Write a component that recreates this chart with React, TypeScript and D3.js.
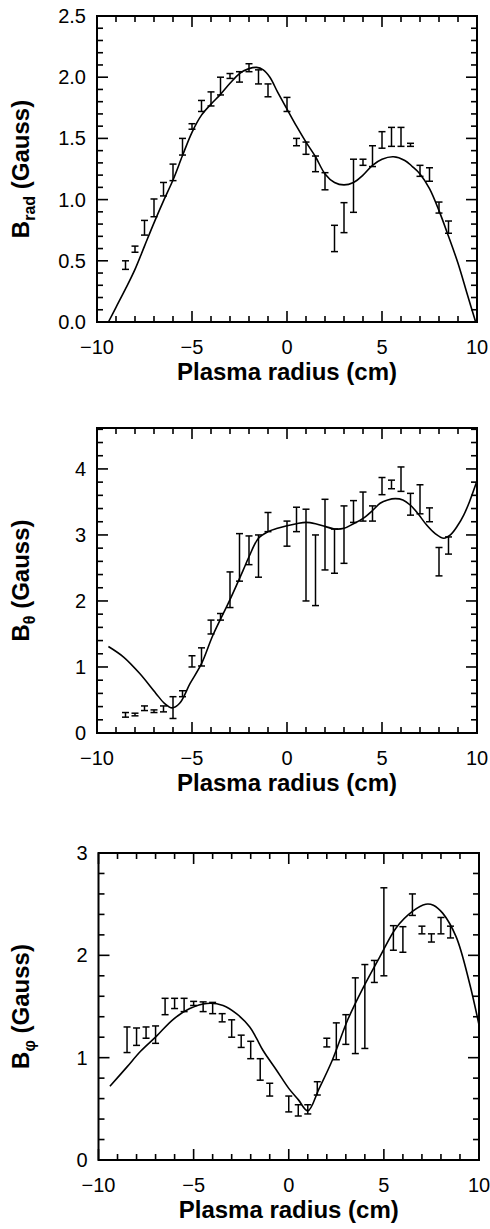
import React from "react";
import * as d3 from "d3";

// ---------- Data ----------
// Panel 1: B_rad
const P1_X = [-8.5,-8,-7.5,-7,-6.5,-6,-5.5,-5,-4.5,-4,-3.5,-3,-2.5,-2,-1.5,-1,0,0.5,1,1.5,2,2.5,3,3.5,4,4.5,5,5.5,6,6.5,7,7.5,8,8.5];
const P1_LO = [0.43,0.57,0.71,0.86,1.03,1.155,1.364,1.575,1.72,1.765,1.855,1.99,1.96,2.045,1.945,1.84,1.72,1.44,1.37,1.228,1.08,0.575,0.73,0.896,1.28,1.27,1.42,1.435,1.435,1.435,1.19,1.15,0.89,0.725];
const P1_HI = [0.50,0.62,0.83,1.005,1.14,1.29,1.50,1.62,1.81,1.88,2.0,2.03,2.045,2.11,2.06,1.945,1.835,1.50,1.47,1.356,1.22,0.79,0.975,1.33,1.33,1.44,1.555,1.59,1.59,1.46,1.28,1.26,0.98,0.825];
const C1_X = [-9.4,-9,-8.5,-8,-7.5,-7,-6.5,-6,-5.5,-5,-4.5,-4,-3.5,-3,-2.5,-2,-1.6,-1.25,-0.9,-0.5,0,0.5,1,1.5,2,2.5,3,3.5,4,4.5,5,5.6,6.2,6.6,7,7.5,8,8.5,9,9.5,9.93];
const C1_Y = [0,0.12,0.27,0.43,0.62,0.81,0.99,1.16,1.36,1.55,1.69,1.78,1.86,1.95,2.03,2.07,2.08,2.06,2.0,1.88,1.74,1.6,1.47,1.35,1.21,1.14,1.12,1.14,1.2,1.28,1.33,1.35,1.32,1.27,1.21,1.09,0.91,0.7,0.48,0.22,0];
const P1_YTICKS = ["0.0","0.5","1.0","1.5","2.0","2.5"];

// Panel 2: B_theta
const P2_X = P1_X;
const P2_LO = [0.24,0.26,0.34,0.31,0.32,0.22,0.55,1.0,1.015,1.50,1.71,1.90,2.3,2.55,2.36,3.05,2.83,3.05,2.0,1.93,2.47,2.42,2.57,3.19,3.21,3.21,3.61,3.70,3.66,3.30,3.32,3.20,2.38,2.71];
const P2_HI = [0.31,0.30,0.41,0.35,0.41,0.55,0.64,1.17,1.29,1.71,1.81,2.44,3.02,2.985,3.0,3.34,3.21,3.42,3.39,3.0,3.54,3.09,3.44,3.52,3.65,3.44,3.87,3.83,4.03,3.63,3.76,3.41,2.81,2.97];
const C2_X = [-9.4,-8.6,-7.75,-6.9,-6.45,-6.05,-5.65,-5.1,-4.5,-3.9,-3.0,-2.3,-2.0,-1.5,-1.0,-0.5,0,0.5,1.0,1.5,2.0,2.5,3.0,3.5,4.0,4.5,4.9,5.3,5.7,6.1,6.5,6.9,7.35,7.8,8.25,8.6,9.0,9.3,9.6,10];
const C2_Y = [1.31,1.15,0.90,0.60,0.45,0.38,0.45,0.75,1.05,1.48,2.02,2.47,2.67,2.95,3.05,3.10,3.14,3.17,3.19,3.17,3.13,3.09,3.10,3.17,3.25,3.37,3.48,3.53,3.55,3.53,3.45,3.32,3.15,3.02,2.95,3.0,3.15,3.30,3.50,3.82];
const P2_YTICKS = ["0","1","2","3","4"];

// Panel 3: B_phi
const P3_X = P1_X;
const P3_LO = [1.05,1.12,1.19,1.14,1.42,1.48,1.45,1.51,1.45,1.43,1.35,1.20,1.10,0.99,0.78,0.625,0.47,0.43,0.45,0.635,1.105,0.98,1.13,1.04,1.09,1.735,1.80,2.05,2.03,2.39,2.21,2.13,2.21,2.17];
const P3_HI = [1.30,1.29,1.30,1.31,1.58,1.58,1.58,1.55,1.545,1.54,1.43,1.37,1.22,1.16,0.99,0.75,0.625,0.54,0.54,0.765,1.19,1.34,1.42,1.78,1.91,1.95,2.66,2.29,2.28,2.60,2.285,2.21,2.37,2.285];
const C3_X = [-9.4,-8.5,-7.8,-6.95,-6.1,-5.2,-4.3,-3.45,-2.75,-2.05,-1.7,-1.35,-0.65,0,0.5,1.0,1.6,2.3,3.1,3.9,4.8,5.65,6.5,7.2,7.6,8.1,8.8,9.5,10];
const C3_Y = [0.72,0.91,1.06,1.21,1.37,1.48,1.53,1.51,1.43,1.30,1.19,1.07,0.88,0.70,0.59,0.48,0.70,0.98,1.37,1.68,1.99,2.27,2.43,2.50,2.49,2.41,2.18,1.73,1.32];
const P3_YTICKS = ["0","1","2","3"];

const X_TICKS = ["\u221210","\u22125","0","5","10"];
const X_TITLE = "Plasma radius (cm)";

const FONT = "'Liberation Sans', Arial, Helvetica, sans-serif";

type PanelProps = {
  left: number; right: number; top: number; bottom: number;
  ymax: number; yMajor: number; yMinor: number; yTicks: string[];
  xs: number[]; lo: number[]; hi: number[];
  cx: number[]; cy: number[];
  sub: string; subDy: number;
};

function Panel(p: PanelProps) {
  const x = d3.scaleLinear().domain([-10, 10]).range([p.left, p.right]);
  const y = d3.scaleLinear().domain([0, p.ymax]).range([p.bottom, p.top]);
  const xMinor = d3.range(-10, 10.001, 1);
  const xMajor = d3.range(-10, 10.001, 5);
  const nMinor = Math.floor(p.ymax / p.yMinor + 1e-6);
  const yMinorV = d3.range(0, nMinor + 1).map((i) => i * p.yMinor);
  const yMajorV = p.yTicks.map((_, i) => i * p.yMajor);
  const line = d3.line<number>()
    .x((_, i) => x(p.cx[i]))
    .y((d) => y(d))
    .curve(d3.curveCatmullRom.alpha(0.5));
  const LMAJ = 11, LMIN = 6;
  const cxm = (p.left + p.right) / 2;
  const cym = (p.top + p.bottom) / 2;
  return (
    <g>
      {/* ticks */}
      <g stroke="#000" strokeWidth={1.6}>
        {xMinor.map((v) => {
          const L = xMajor.some((m) => Math.abs(m - v) < 1e-6) ? LMAJ : LMIN;
          return (
            <g key={"xt" + v}>
              <line x1={x(v)} x2={x(v)} y1={p.bottom} y2={p.bottom - L} />
              <line x1={x(v)} x2={x(v)} y1={p.top} y2={p.top + L} />
            </g>
          );
        })}
        {yMinorV.map((v) => {
          const L = yMajorV.some((m) => Math.abs(m - v) < 1e-6) ? LMAJ : LMIN;
          return (
            <g key={"yt" + v}>
              <line x1={p.left} x2={p.left + L} y1={y(v)} y2={y(v)} />
              <line x1={p.right} x2={p.right - L} y1={y(v)} y2={y(v)} />
            </g>
          );
        })}
      </g>
      <rect x={p.left} y={p.top} width={p.right - p.left} height={p.bottom - p.top}
        fill="none" stroke="#000" strokeWidth={2} />
      {/* tick labels */}
      <g fontFamily={FONT} fontSize={20} fill="#000">
        {X_TICKS.map((t, i) => (
          <text key={"xl" + i} x={x(xMajor[i])} y={p.bottom + 32} textAnchor="middle">{t}</text>
        ))}
        {p.yTicks.map((t, i) => (
          <text key={"yl" + i} x={p.left - 11} y={y(yMajorV[i]) + 7} textAnchor="end">{t}</text>
        ))}
      </g>
      {/* titles */}
      <text x={cxm} y={p.bottom + 58} textAnchor="middle" fontFamily={FONT}
        fontWeight="bold" fontSize={24}>{X_TITLE}</text>
      <text transform={`translate(29,${cym}) rotate(-90)`} textAnchor="middle"
        fontFamily={FONT} fontWeight="bold" fontSize={24}>
        B<tspan dy={p.subDy} fontSize={16}>{p.sub}</tspan><tspan dy={-p.subDy}> (Gauss)</tspan>
      </text>
      {/* error bars */}
      <g stroke="#000" strokeWidth={1.5}>
        {p.xs.map((v, i) => (
          <g key={"e" + i}>
            <line x1={x(v)} x2={x(v)} y1={y(p.lo[i])} y2={y(p.hi[i])} />
            <line x1={x(v) - 3.5} x2={x(v) + 3.5} y1={y(p.lo[i])} y2={y(p.lo[i])} />
            <line x1={x(v) - 3.5} x2={x(v) + 3.5} y1={y(p.hi[i])} y2={y(p.hi[i])} />
          </g>
        ))}
      </g>
      <path d={line(p.cy) || ""} fill="none" stroke="#000" strokeWidth={1.6} />
    </g>
  );
}

export default function App() {
  return (
    <svg width={490} height={1229} style={{ position: "absolute", left: 0, top: 0, background: "#fff" }}>
      <rect x={0} y={0} width={490} height={1229} fill="#fff" />
      <Panel left={97} right={477} top={16} bottom={322} ymax={2.5} yMajor={0.5} yMinor={0.1}
        yTicks={P1_YTICKS} xs={P1_X} lo={P1_LO} hi={P1_HI} cx={C1_X} cy={C1_Y} sub="rad" subDy={6} />
      <Panel left={97} right={477} top={428} bottom={733} ymax={4.62} yMajor={1} yMinor={0.2}
        yTicks={P2_YTICKS} xs={P2_X} lo={P2_LO} hi={P2_HI} cx={C2_X} cy={C2_Y} sub={"\u03b8"} subDy={6} />
      <Panel left={98.5} right={479} top={853} bottom={1160} ymax={3} yMajor={1} yMinor={0.2}
        yTicks={P3_YTICKS} xs={P3_X} lo={P3_LO} hi={P3_HI} cx={C3_X} cy={C3_Y} sub={"\u03c6"} subDy={6} />
    </svg>
  );
}
